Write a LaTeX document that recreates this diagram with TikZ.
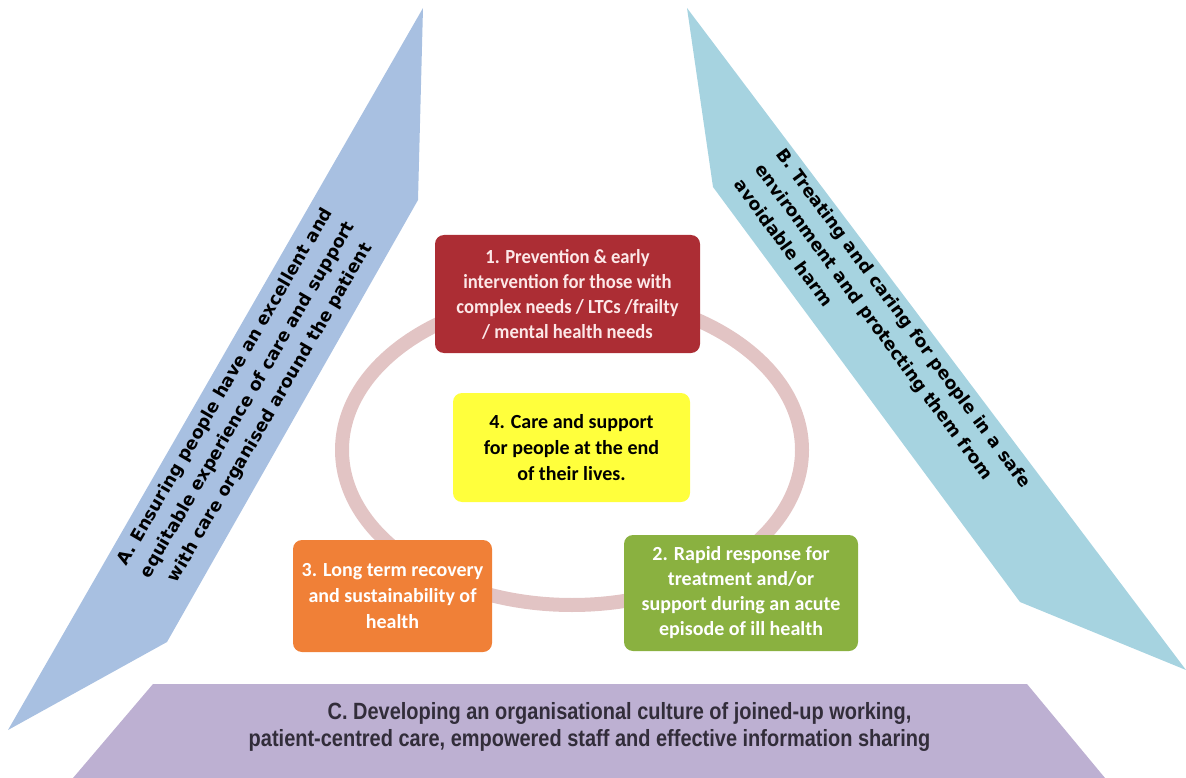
\documentclass[tikz,border=0pt]{standalone}
\usepackage{fontspec}
\setmainfont{Carlito}
\newfontfamily\boxfont{Carlito}
\newfontfamily\boxfontn[FakeStretch=0.93]{Carlito}
\newfontfamily\armfont{DejaVu Sans}
\newfontfamily\basefont[FakeStretch=0.85]{Liberation Sans}
\definecolor{armA}{RGB}{168,192,225}
\definecolor{armB}{RGB}{166,211,224}
\definecolor{baseC}{RGB}{189,176,210}
\definecolor{ringc}{RGB}{226,196,196}
\definecolor{boxred}{RGB}{172,45,52}
\definecolor{boxgreen}{RGB}{138,177,64}
\definecolor{boxorange}{RGB}{240,128,55}
\definecolor{boxyellow}{RGB}{255,255,60}
\definecolor{redtext}{RGB}{252,232,232}
\definecolor{basetext}{RGB}{50,45,58}
\tikzset{
  cbox/.style={rounded corners=9pt, align=center, inner sep=0pt,
    font=\boxfont\bfseries\fontsize{20}{26}\selectfont},
  armtext/.style={font=\armfont\bfseries\fontsize{17.5}{26}\selectfont, inner sep=0pt},
}
\begin{document}
\begin{tikzpicture}[x=1pt,y=-1pt]
\useasboundingbox (0,0) rectangle (1186,778);
% arms and base
\fill[armA] (423,8) -- (418,200) -- (167,642) -- (8,730) -- cycle;
\fill[armB] (687,8) -- (713,187) -- (1020,602) -- (1186,670) -- cycle;
\fill[baseC] (153,684) -- (1027,684) -- (1105,778) -- (73,778) -- cycle;
% ring
\draw[ringc, line width=14pt] (572,450) ellipse [x radius=230, y radius=155];
% boxes
\node[cbox, fill=boxred, text=redtext, minimum width=265pt, minimum height=118pt,
      font=\boxfontn\bfseries\fontsize{20}{25}\selectfont] (b1) at (567.5,294)
  {1. Prevention \& early\\intervention for those with\\complex needs / LTCs /frailty\\/ mental health needs};
\node[cbox, fill=boxyellow, text=black, minimum width=237pt, minimum height=109pt] (b4) at (571.5,447.5)
  {4. Care and support\\for people at the end\\of their lives.};
\node[cbox, fill=boxorange, text=white, minimum width=199pt, minimum height=112pt] (b3) at (392.5,596)
  {3. Long term recovery\\and sustainability of\\health};
\node[cbox, fill=boxgreen, text=white, minimum width=234pt, minimum height=116pt,
      font=\boxfont\bfseries\fontsize{20}{25}\selectfont] (b2) at (741,593)
  {2. Rapid response for\\treatment and/or\\support during an acute\\episode of ill health};
% arm texts
\node[armtext, rotate=59.8, align=center] (ta) at (248,400)
  {A. Ensuring people have an excellent and\\equitable experience of care and support\\with care organised around the patient};
\node[armtext, rotate=-53.6, align=left] (tb) at (883,333)
  {B. Treating and caring for people in a safe\\environment and protecting them from\\avoidable harm};
\node[font=\basefont\bfseries\fontsize{23.5}{27}\selectfont, text=basetext, align=center, inner sep=0pt] (tc) at (589.5,726.5)
  {\hspace*{60pt}C. Developing an organisational culture of joined-up working,\\patient-centred care, empowered staff and effective information sharing};
\end{tikzpicture}
\end{document}
